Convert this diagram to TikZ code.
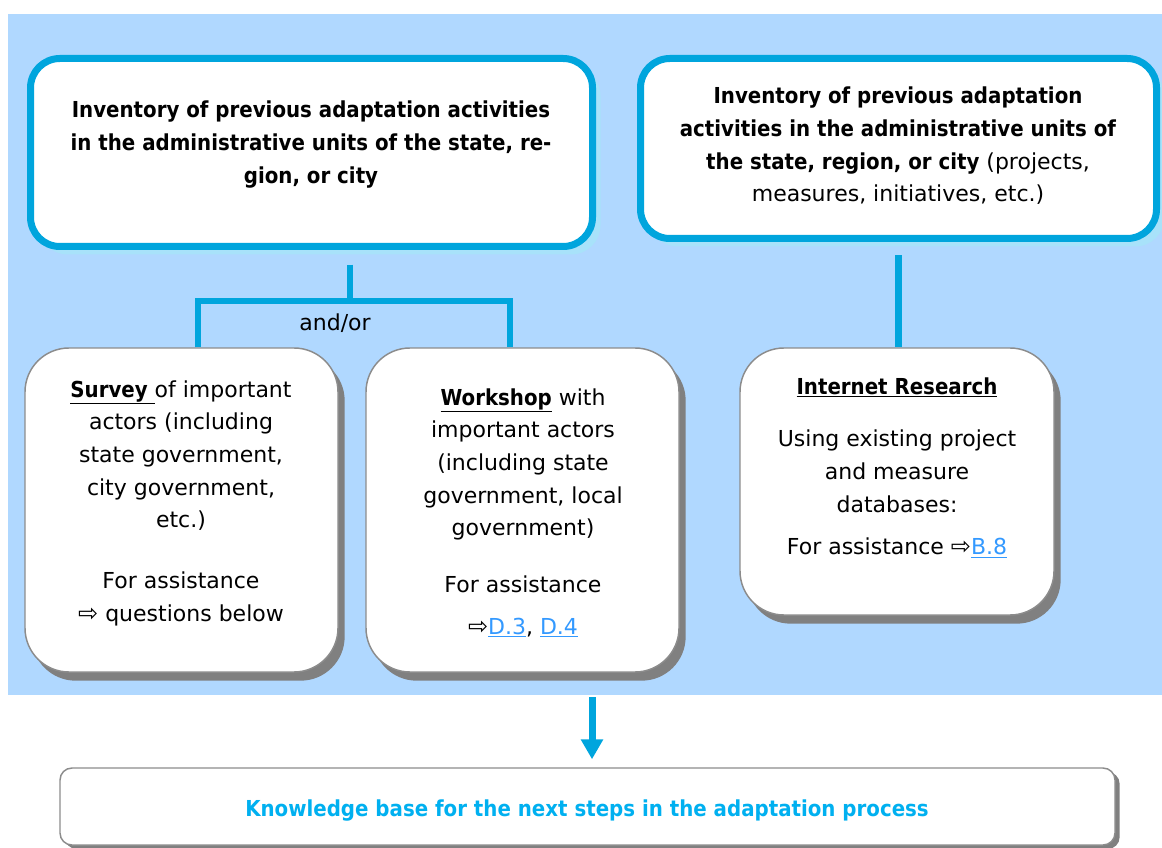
\documentclass[tikz,border=0pt]{standalone}
\usepackage{fontspec}
\setmainfont{DejaVu Sans}[BoldFeatures={FakeStretch=0.9}]
\usetikzlibrary{shadows,arrows.meta}
\definecolor{bgblue}{HTML}{B0D8FF}
\definecolor{cyanln}{HTML}{00A5DD}
\definecolor{lightcy}{HTML}{A8E2FA}
\definecolor{greyln}{HTML}{8C8C8C}
\definecolor{shadowgr}{HTML}{808080}
\definecolor{linkc}{HTML}{3399FF}
\definecolor{kbtext}{HTML}{00B0F0}
\newcommand{\px}{0.75pt}
\newcommand{\lnk}[1]{{\color{linkc}\underline{#1}}}
\newcommand{\warr}{{\fontsize{18}{24}\selectfont ⇨}}
\begin{document}
\begin{tikzpicture}[x=0.75pt,y=-0.75pt]
\tikzset{
  topbox/.style={draw=cyanln, line width=5.25pt, fill=white, rounded corners=22pt, inner sep=0pt,
    general shadow={fill=lightcy, shadow xshift=6pt, shadow yshift=-6pt}},
  lowbox/.style={draw=greyln, line width=1.1pt, fill=white, rounded corners=33pt, inner sep=0pt,
    general shadow={fill=shadowgr, shadow xshift=5pt, shadow yshift=-6.5pt}},
  kbbox/.style={draw=greyln, line width=1.1pt, fill=white, rounded corners=9pt, inner sep=0pt,
    general shadow={fill=shadowgr, shadow xshift=3.5pt, shadow yshift=-3pt}},
  txt/.style={align=center, inner sep=0pt, font=\fontsize{16.5}{24.5}\selectfont},
  conn/.style={draw=cyanln, line width=5pt},
  arr/.style={draw=cyanln, line width=5.25pt, -{Triangle[width=16pt,length=15pt]}, shorten >=6pt},
}
\useasboundingbox (0,0) rectangle (1162,848);
\fill[bgblue] (8,14) rectangle (1162,695);
% top boxes
\node[topbox, minimum width=562*\px, minimum height=188*\px] (TL) at (311.5,152.5) {};
\node[topbox, minimum width=516*\px, minimum height=180*\px] (TR) at (898.5,148.5) {};
\node[txt, font=\fontsize{16.5}{24.5}\selectfont\bfseries] (TLt) at (311,144.5)
  {Inventory of previous adaptation activities\\in the administrative units of the state, re-\\gion, or city};
\node[txt] (TRt) at (898,146)
  {\textbf{Inventory of previous adaptation}\\\textbf{activities in the administrative units of}\\\textbf{the state, region, or city} (projects,\\measures, initiatives, etc.)};
% lower boxes
\node[lowbox, minimum width=313*\px, minimum height=324*\px] (SV) at (181.5,510) {};
\node[lowbox, minimum width=313*\px, minimum height=324*\px] (WS) at (522.5,510) {};
\node[lowbox, minimum width=314*\px, minimum height=267*\px] (IR) at (897,481.5) {};
\node[txt] (SVt) at (181,503)
  {\underline{\textbf{Survey\ }}of important\\actors (including\\state government,\\city government,\\etc.)\\[21pt]For assistance\\\warr\ questions below};
\node[txt] (WSt) at (523,513)
  {\underline{\textbf{Workshop}} with\\important actors\\(including state\\government, local\\government)\\[18pt]For assistance\\[7pt]\warr\lnk{D.3}, \lnk{D.4}};
\node[txt] (IRt) at (897,467.5)
  {\underline{\textbf{Internet Research}}\\[15pt]Using existing project\\and measure\\databases:\\[7.5pt]For assistance \warr\lnk{B.8}};
% bottom box
\node[kbbox, minimum width=1055*\px, minimum height=77*\px] (KB) at (587.5,806.5) {};
\node[txt, text=kbtext, font=\fontsize{16.5}{24.5}\selectfont\bfseries] (KBt) at (587,811)
  {Knowledge base for the next steps in the adaptation process};
% connectors
\coordinate (J) at (350,301);
\coordinate (SL) at (198,301);
\coordinate (WR) at (510,301);
\node[txt] (AO) at (335,323) {and/or};
\draw[conn] ([yshift=-11pt]TL.south -| J) -- (J);
\draw[conn] (SV.north -| SL) -- (SL) -- (WR) -- (WS.north -| WR);
\draw[conn] ([yshift=-10pt]TR.south) -- (IR.north -| TR.south);
\coordinate (AS) at (592,697);
\draw[arr] (AS) -- (AS |- KB.north);
\end{tikzpicture}
\end{document}
